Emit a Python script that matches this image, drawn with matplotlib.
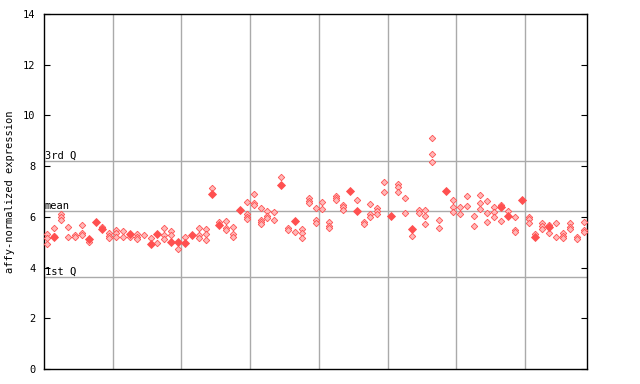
import numpy as np
import matplotlib
matplotlib.use("Agg")
import matplotlib.pyplot as plt

# expression values per sample column (light = hatched diamonds, solid = filled diamonds)
light = [
    [5.31, 5.18, 4.92], [5.55, 5.25], [6.11, 5.98, 5.88], [5.59, 5.22], [5.28, 5.19],
    [5.68, 5.37, 5.28], [5.02], [], [5.59], [5.37, 5.26, 5.15],
    [5.48, 5.35, 5.22], [5.45, 5.19], [5.22], [5.31, 5.22, 5.13], [5.28],
    [5.18], [4.96], [5.55, 5.28, 5.11], [5.45, 5.28], [4.72],
    [5.19], [], [5.55, 5.28, 5.18], [5.51, 5.31, 5.09], [7.13],
    [5.81], [5.84, 5.55, 5.48], [5.61, 5.31, 5.22], [], [6.57, 6.11, 6.01, 5.92],
    [6.89, 6.56, 6.47], [6.34, 5.88, 5.79, 5.71], [6.23, 6.05, 5.95], [6.18, 5.86], [7.56],
    [5.57, 5.48], [5.39], [5.52, 5.35, 5.15], [6.73, 6.64, 6.53], [6.34, 5.88, 5.75],
    [6.57, 6.30], [5.78, 5.65, 5.55], [6.83, 6.76, 6.66], [6.47, 6.38, 6.27], [],
    [6.66], [5.81, 5.71], [6.51, 6.11, 6.01], [6.34, 6.23, 6.10], [7.36, 6.97],
    [], [7.28, 7.19, 6.97], [6.73, 6.16], [5.24], [6.27, 6.16],
    [6.27, 6.05, 5.72], [9.10, 8.48, 8.15], [5.88, 5.55], [], [6.66, 6.38, 6.18],
    [6.38, 6.10], [6.83, 6.43], [6.03, 5.64], [6.86, 6.53, 6.30], [6.63, 6.14, 5.78],
    [6.38, 6.18, 6.01], [6.47, 5.84], [6.23], [5.98, 5.48, 5.39], [],
    [6.01, 5.92, 5.75], [5.31], [5.75, 5.64, 5.51], [5.68, 5.35], [5.75, 5.19],
    [5.35, 5.26, 5.18], [5.75, 5.61, 5.51], [5.19, 5.13], [5.78, 5.48, 5.39],
]
solid = {1: [5.20], 6: [5.11], 7: [5.81], 8: [5.51], 12: [5.32], 15: [4.93],
         16: [5.34], 18: [5.02], 19: [5.02], 20: [4.98], 21: [5.28], 24: [6.91],
         25: [5.69], 28: [6.27], 34: [7.27], 36: [5.85], 44: [7.02], 45: [6.24],
         50: [6.03], 53: [5.53], 58: [7.02], 66: [6.38], 67: [6.03], 69: [6.66],
         71: [5.22], 73: [5.61]}

q3 = 8.21
mean = 6.23
q1 = 3.63

red = "#ff5050"
grid_col = "#aaaaaa"
mono = "DejaVu Sans Mono"

fig = plt.figure(figsize=(6.4, 3.84), dpi=100)
ax = fig.add_axes([44 / 640, 15 / 384, 543 / 640, 355 / 384])

n = len(light)
for i, vals in enumerate(light):
    x = np.full(len(vals), i + 0.5)
    ax.plot(x, vals, "D", ms=3.3, mfc="#ffb8b8", mec=red, mew=0.6, zorder=3)
for i, vals in solid.items():
    x = np.full(len(vals), i + 0.5)
    ax.plot(x, vals, "D", ms=3.6, mfc=red, mec=red, mew=0.6, zorder=4)

for gx in range(10, n, 10):
    ax.axvline(gx, color=grid_col, lw=1, zorder=1)
for y, lab in [(q3, "3rd Q"), (mean, "mean"), (q1, "1st Q")]:
    ax.axhline(y, color=grid_col, lw=1, zorder=1)
    ax.text(0.1, y + 0.02, lab, family=mono, fontsize=7.5, va="bottom", ha="left")

ax.set_xlim(0, n)
ax.set_ylim(0, 14)
ax.set_yticks(range(0, 15, 2))
ax.set_xticks([])
ax.tick_params(axis="y", direction="in", length=4, right=True, labelsize=7.5, pad=6)
for t in ax.get_yticklabels():
    t.set_family(mono)
ax.set_ylabel("affy-normalized expression", family=mono, fontsize=7.5, labelpad=6)
for s in ax.spines.values():
    s.set_linewidth(1)

fig.savefig("out.png", dpi=100)
